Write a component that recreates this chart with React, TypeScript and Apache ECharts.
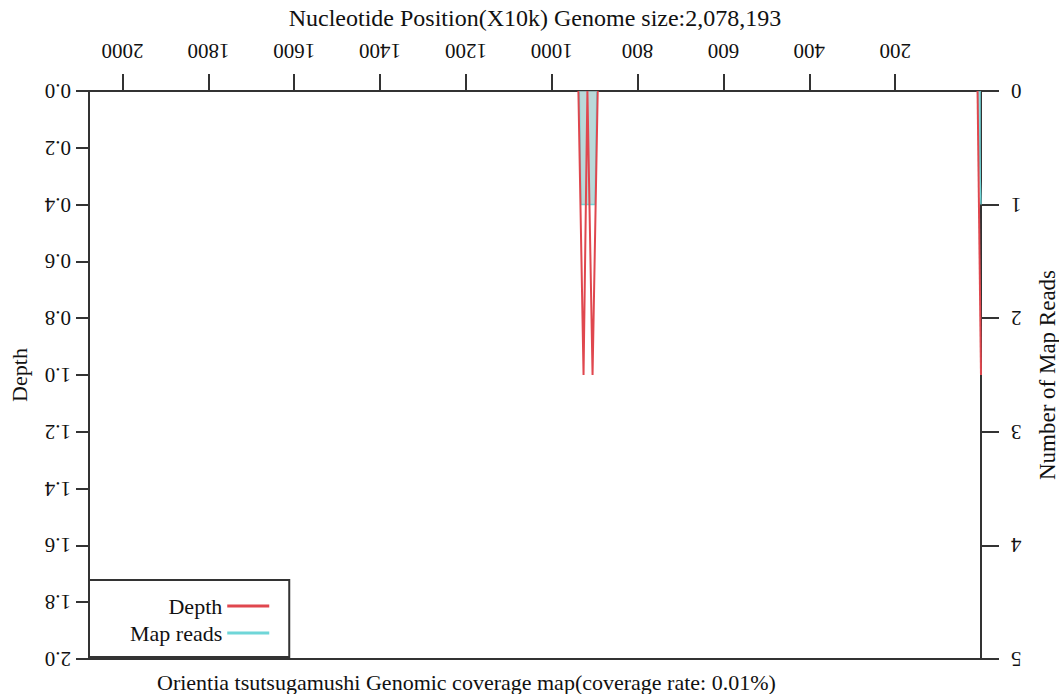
import React, { useEffect, useRef } from "react";
import * as echarts from "echarts";

const xTicks = [200, 400, 600, 800, 1000, 1200, 1400, 1600, 1800, 2000];
const genomeMax = 2078.193;

const depthSpikeA: [number, number][] = [
  [938, 0], [926, 1.0], [917, 0], [905, 1.0], [893, 0],
];
const depthSpikeB: [number, number][] = [
  [8, 0], [0, 1.0],
];
const readsSpikeA: [number, number][] = [
  [936, 0], [932, 1], [899, 1], [895, 0],
];
const readsSpikeB: [number, number][] = [
  [8, 0], [0, 1],
];

const FONT = "Liberation Serif";

export default function App() {
  const ref = useRef<HTMLDivElement>(null);
  useEffect(() => {
    if (!ref.current) return;
    const chart = echarts.init(ref.current, null, { renderer: "svg" });
    const red = "#e0474e";
    const cyan = "#6fd6d8";
    const axisCol = "#333";
    chart.setOption({
      animation: false,
      backgroundColor: "#fff",
      textStyle: { fontFamily: FONT, color: "#111" },
      title: {
        text: "Orientia tsutsugamushi Genomic coverage map(coverage rate: 0.01%)",
        left: 157,
        top: 671,
        padding: 0,
        textStyle: { fontFamily: FONT, fontSize: 22, fontWeight: "normal", color: "#111" },
      },
      legend: {
        orient: "vertical",
        left: 89,
        top: 580,
        padding: [15, 20, 13, 41],
        itemGap: 5,
        itemWidth: 42,
        itemHeight: 3,
        align: "right",
        borderColor: axisCol,
        borderWidth: 2,
        backgroundColor: "#fff",
        icon: "rect",
        textStyle: { fontFamily: FONT, fontSize: 22, color: "#111", width: 100, align: "right" },
        data: [
          { name: "Depth", itemStyle: { color: red } },
          { name: "Map reads", itemStyle: { color: cyan } },
        ],
      },
      grid: {
        left: 89,
        right: 78,
        top: 91,
        bottom: 35,
        show: true,
        borderColor: axisCol,
        borderWidth: 2,
        backgroundColor: "transparent",
        containLabel: false,
        outerBoundsMode: "none",
      },
      xAxis: {
        type: "value",
        position: "top",
        inverse: true,
        min: 0,
        max: genomeMax,
        name: "Nucleotide Position(X10k) Genome size:2,078,193",
        nameLocation: "middle",
        nameGap: 61,
        nameMoveOverlap: false,
        nameTextStyle: { fontFamily: FONT, fontSize: 24, color: "#111" },
        axisLine: { show: true, onZero: false, lineStyle: { color: axisCol, width: 2 } },
        axisTick: { show: true, length: 17, lineStyle: { color: axisCol, width: 2 }, customValues: xTicks },
        axisLabel: {
          rotate: 180,
          margin: 30,
          fontFamily: FONT,
          fontSize: 21,
          color: "#111",
          customValues: xTicks,
          formatter: (v: number) => String(v),
        },
        splitLine: { show: false },
      },
      yAxis: [
        {
          type: "value",
          position: "left",
          inverse: true,
          min: 0,
          max: 2,
          interval: 0.2,
          name: "Depth",
          nameLocation: "middle",
          nameGap: 59,
          nameTextStyle: { fontFamily: FONT, fontSize: 22, color: "#111" },
          axisLine: { show: true, onZero: false, lineStyle: { color: axisCol, width: 2 } },
          axisTick: { show: true, length: 13, lineStyle: { color: axisCol, width: 2 } },
          axisLabel: {
            rotate: 180,
            margin: 18,
            fontFamily: FONT,
            fontSize: 21,
            color: "#111",
            formatter: (v: number) => v.toFixed(1),
          },
          splitLine: { show: false },
        },
        {
          type: "value",
          position: "right",
          inverse: true,
          min: 0,
          max: 5,
          interval: 1,
          name: "Number of Map Reads",
          nameLocation: "middle",
          nameGap: 55,
          nameMoveOverlap: false,
          nameTextStyle: { fontFamily: FONT, fontSize: 23, color: "#111" },
          axisLine: { show: true, onZero: false, lineStyle: { color: axisCol, width: 2 } },
          axisTick: { show: true, length: 18, lineStyle: { color: axisCol, width: 2 } },
          axisLabel: {
            rotate: 180,
            margin: 30,
            fontFamily: FONT,
            fontSize: 21,
            color: "#111",
          },
          splitLine: { show: false },
        },
      ],
      series: [
        {
          name: "Map reads",
          type: "line",
          yAxisIndex: 1,
          data: readsSpikeA,
          symbol: "none",
          lineStyle: { color: cyan, width: 1.5 },
          itemStyle: { color: cyan },
          areaStyle: { color: "#a9cfcf", opacity: 0.8 },
          z: 2,
        },
        {
          name: "Map reads",
          type: "line",
          yAxisIndex: 1,
          data: readsSpikeB,
          symbol: "none",
          lineStyle: { color: cyan, width: 1.5 },
          itemStyle: { color: cyan },
          areaStyle: { color: cyan, opacity: 0.8 },
          z: 2,
        },
        {
          name: "Depth",
          type: "line",
          yAxisIndex: 0,
          data: depthSpikeA,
          symbol: "none",
          lineStyle: { color: red, width: 2 },
          itemStyle: { color: red },
          z: 3,
        },
        {
          name: "Depth",
          type: "line",
          yAxisIndex: 0,
          data: depthSpikeB,
          symbol: "none",
          lineStyle: { color: red, width: 2 },
          itemStyle: { color: red },
          z: 3,
        },
      ],
    });
    return () => chart.dispose();
  }, []);
  return <div ref={ref} style={{ width: 1059, height: 694, position: "absolute", left: 0, top: 0 }} />;
}
